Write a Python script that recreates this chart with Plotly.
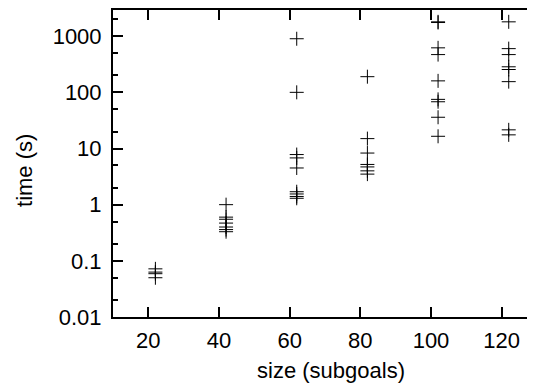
import plotly.graph_objects as go

# Data (size in subgoals, time in seconds)
x22 = [0.072, 0.063, 0.059, 0.050]
x42 = [1.0, 0.6, 0.55, 0.47, 0.40, 0.36, 0.33]
x62 = [900, 100, 7.8, 6.8, 4.5, 1.7, 1.55, 1.4, 1.3]
x82 = [190, 15, 8.3, 5.2, 4.7, 4.0, 3.5]
x102 = [1800, 1750, 620, 470, 160, 75, 68, 36, 16.5]
x122 = [1800, 600, 470, 285, 255, 155, 21.5, 17.5]

sizes = [22, 42, 62, 82, 102, 122]
times = [x22, x42, x62, x82, x102, x122]

xs, ys = [], []
for s, t in zip(sizes, times):
    xs += [s] * len(t)
    ys += t

x_ticks = [20, 40, 60, 80, 100, 120]
y_ticks = [0.01, 0.1, 1, 10, 100, 1000]
y_tick_labels = ["0.01", "0.1", "1", "10", "100", "1000"]
y_minor = [m * 10.0 ** e for e in range(-2, 4) for m in (2, 5)]

FONT = "Liberation Sans, Arial, sans-serif"
FS = 22

fig = go.Figure()
fig.add_trace(go.Scatter(
    x=xs, y=ys, mode="markers",
    marker=dict(symbol="cross-thin", size=10, color="black",
                line=dict(color="black", width=1)),
    showlegend=False,
))

yrange = [-2, 3.466]

fig.update_layout(
    width=535, height=385,
    margin=dict(l=105, r=6, t=0, b=76),
    paper_bgcolor="white", plot_bgcolor="white",
    font=dict(family=FONT, size=FS, color="black"),
    xaxis=dict(
        range=[10, 130], tickmode="array", tickvals=x_ticks,
        ticks="inside", ticklen=10, tickwidth=1.5, tickcolor="black",
        showline=True, linewidth=2, linecolor="black", mirror="ticks",
        showgrid=False, zeroline=False,
        ticklabelstandoff=3,
    ),
    yaxis=dict(
        type="log", range=yrange, tickmode="array",
        tickvals=y_ticks, ticktext=y_tick_labels,
        ticks="inside", ticklen=10, tickwidth=1.5, tickcolor="black",
        minor=dict(tickmode="array", tickvals=y_minor, ticks="inside",
                   ticklen=5, tickwidth=1.5, tickcolor="black", showgrid=False),
        showline=True, linewidth=2, linecolor="black", mirror=False,
        showgrid=False, zeroline=False,
        ticklabelstandoff=5,
    ),
    annotations=[
        dict(text="time (s)", textangle=-90, showarrow=False,
             xref="paper", yref="paper", x=-0.2075, y=0.4757,
             xanchor="center", yanchor="middle", font=dict(size=FS)),
        dict(text="size (subgoals)", showarrow=False,
             xref="paper", yref="paper", x=0.514, y=-0.1748,
             xanchor="center", yanchor="middle", font=dict(size=FS)),
    ],
)

fig.write_html("out.html")
